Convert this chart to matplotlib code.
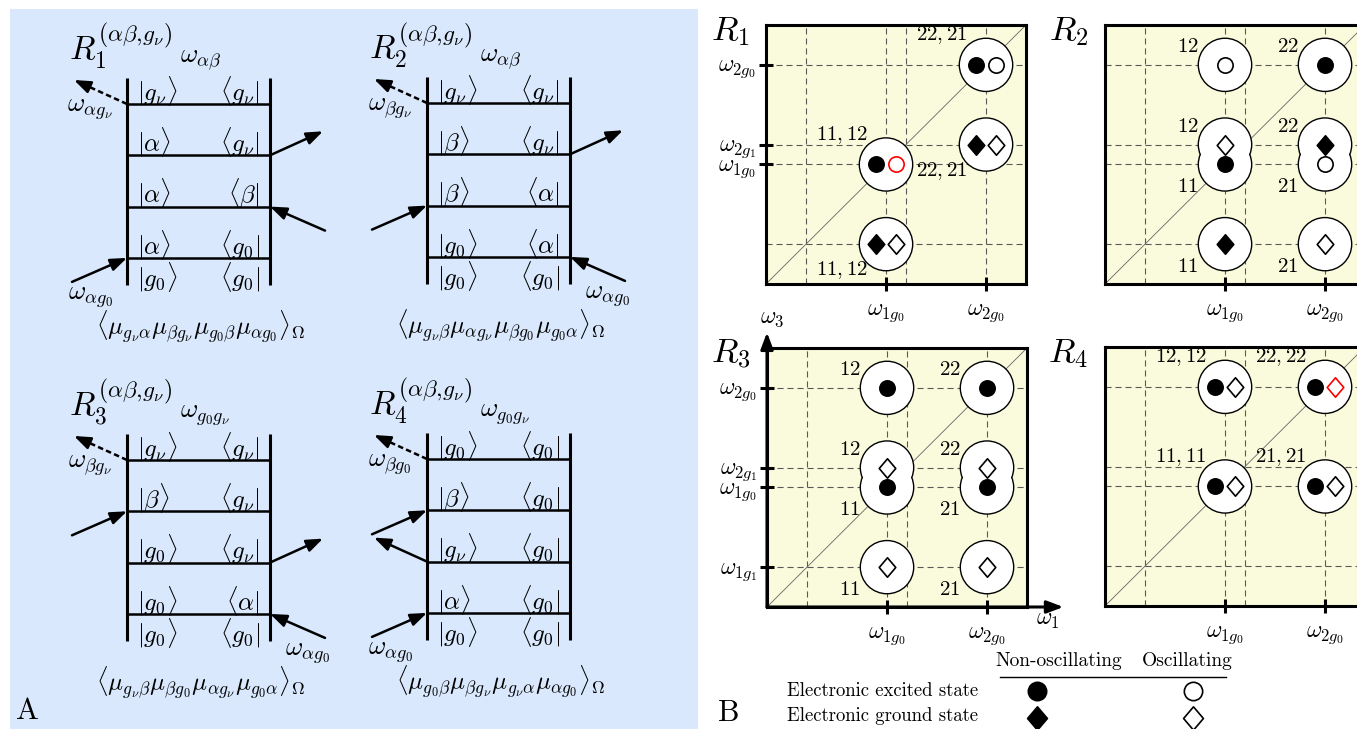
import matplotlib.pyplot as plt
from matplotlib.patches import Rectangle, Circle
from matplotlib.path import Path

plt.rcParams['mathtext.fontset'] = 'cm'
plt.rcParams['font.family'] = 'serif'
plt.rcParams['font.serif'] = ['cmr10']
plt.rcParams['axes.formatter.use_mathtext'] = True

# ---------------- panel A: double-sided Feynman diagrams ----------------
R1_kets = [r'g_\nu', r'\alpha', r'\alpha', r'\alpha', r'g_0']
R1_bras = [r'g_\nu', r'g_\nu', r'\beta', r'g_0', r'g_0']
R2_kets = [r'g_\nu', r'\beta', r'\beta', r'g_0', r'g_0']
R2_bras = [r'g_\nu', r'g_\nu', r'\alpha', r'\alpha', r'g_0']
R3_kets = [r'g_\nu', r'\beta', r'g_0', r'g_0', r'g_0']
R3_bras = [r'g_\nu', r'g_\nu', r'g_\nu', r'\alpha', r'g_0']
R4_kets = [r'g_0', r'\beta', r'g_\nu', r'\alpha', r'g_0']
R4_bras = [r'g_0', r'g_0', r'g_0', r'g_0', r'g_0']

# (side, interaction index, kind, label)
R1_arrows = [('L', 0, 'sig', r'\omega_{\alpha g_\nu}'), ('R', 1, 'out', ''),
             ('R', 2, 'in', ''), ('L', 3, 'in', r'\omega_{\alpha g_0}')]
R2_arrows = [('L', 0, 'sig', r'\omega_{\beta g_\nu}'), ('R', 1, 'out', ''),
             ('L', 2, 'in', ''), ('R', 3, 'in', r'\omega_{\alpha g_0}')]
R3_arrows = [('L', 0, 'sig', r'\omega_{\beta g_\nu}'), ('L', 1, 'in', ''),
             ('R', 2, 'out', ''), ('R', 3, 'in', r'\omega_{\alpha g_0}')]
R4_arrows = [('L', 0, 'sig', r'\omega_{\beta g_0}'), ('L', 1, 'in', ''),
             ('L', 2, 'out', ''), ('L', 3, 'in', r'\omega_{\alpha g_0}')]

coherences = [r'\omega_{\alpha\beta}', r'\omega_{\alpha\beta}',
              r'\omega_{g_0g_\nu}', r'\omega_{g_0g_\nu}']
orientations = [
    r'\langle\mu_{g_\nu\alpha}\mu_{\beta g_\nu}\mu_{g_0\beta}\mu_{\alpha g_0}\rangle_\Omega',
    r'\langle\mu_{g_\nu\beta}\mu_{\alpha g_\nu}\mu_{\beta g_0}\mu_{g_0\alpha}\rangle_\Omega',
    r'\langle\mu_{g_\nu\beta}\mu_{\beta g_0}\mu_{\alpha g_\nu}\mu_{g_0\alpha}\rangle_\Omega',
    r'\langle\mu_{g_0\beta}\mu_{\beta g_\nu}\mu_{g_\nu\alpha}\mu_{\alpha g_0}\rangle_\Omega',
]

# ---------------- panel B: 2D spectra peak maps ----------------
w1g1, w1g0, w2g1, w2g0 = 1.0, 3.0, 3.5, 5.5
wmax = 6.5

# marks: E/e = excited state (filled / oscillating), G/g = ground state; '!' = red
R1_x = [w1g0, w2g0, w2g0, w1g0]
R1_y = [w1g0, w2g0, w2g1, w1g1]
R1_marks = [('E', 'e!'), ('E', 'e'), ('G', 'g'), ('G', 'g')]
R1_labels = ['11,12', '22,21', '22,21', '11,12']
R1_sides = ['up', 'up', 'down', 'down']

R2_x = [w1g0, w2g0, w1g0, w1g0, w2g0, w2g0, w1g0, w2g0]
R2_y = [w2g0, w2g0, w2g1, w1g0, w2g1, w1g0, w1g1, w1g1]
R2_marks = [('e',), ('E',), ('g',), ('E',), ('G',), ('e',), ('G',), ('g',)]
R2_labels = ['12', '22', '12', '11', '22', '21', '11', '21']
R2_sides = ['up', 'up', 'up', 'down', 'up', 'down', 'down', 'down']

R3_x = [w1g0, w2g0, w1g0, w1g0, w2g0, w2g0, w1g0, w2g0]
R3_y = [w2g0, w2g0, w2g1, w1g0, w2g1, w1g0, w1g1, w1g1]
R3_marks = [('E',), ('E',), ('g',), ('E',), ('g',), ('E',), ('g',), ('g',)]
R3_labels = ['12', '22', '12', '11', '22', '21', '11', '21']
R3_sides = ['up', 'up', 'up', 'down', 'up', 'down', 'down', 'down']

R4_x = [w1g0, w2g0, w1g0, w2g0]
R4_y = [w2g0, w2g0, w1g0, w1g0]
R4_marks = [('E', 'g'), ('E', 'g!'), ('E', 'g'), ('E', 'g')]
R4_labels = ['12,12', '22,22', '11,11', '21,21']
R4_sides = ['up', 'up', 'up', 'up']

grid_w = [w1g1, w1g0, w2g1, w2g0]
tick_names = {w1g1: r'$\omega_{1g_1}$', w1g0: r'$\omega_{1g_0}$',
              w2g1: r'$\omega_{2g_1}$', w2g0: r'$\omega_{2g_0}$'}

W, H = 1357, 729
fig = plt.figure(figsize=(W / 100, H / 100), dpi=100)
ax = fig.add_axes([0, 0, 1, 1])
ax.set_xlim(0, W)
ax.set_ylim(H, 0)
ax.axis('off')

ax.add_patch(Rectangle((10, 9), 688, 720, facecolor='#d9e8fc', edgecolor='none', zorder=0))

LW = 1.8
SP = 51.3


def arrow(a, tail, head, dashed=False):
    if dashed:
        fx = head[0] + (tail[0] - head[0]) * 0.2
        fy = head[1] + (tail[1] - head[1]) * 0.2
        a.plot([tail[0], fx], [tail[1], fy], color='k', lw=LW, ls=(0, (2.2, 1.3)))
        tail = (fx, fy)
    a.annotate('', xy=head, xytext=tail,
               arrowprops=dict(arrowstyle='-|>,head_length=0.45,head_width=0.17',
                               color='k', lw=LW, shrinkA=0, shrinkB=0,
                               mutation_scale=22))


def diagram(a, x0, y0, idx, kets, bras, arrows):
    xr = x0 + 143
    lines = [y0 + k * SP for k in range(4)]
    for xv in (x0, xr):
        a.plot([xv, xv], [y0 - 26, lines[-1] + 27], color='k', lw=2.2, solid_capstyle='butt')
    for yl in lines:
        a.plot([x0, xr], [yl, yl], color='k', lw=LW, solid_capstyle='butt')
    rows = [yl - 13 for yl in lines] + [lines[-1] + 19]
    for yr, k, b in zip(rows, kets, bras):
        a.text(x0 + 10, yr, rf'$|{k}\rangle$', ha='left', va='center', fontsize=18)
        a.text(xr - 10, yr, rf'$\langle {b}|$', ha='right', va='center', fontsize=18)
    a.text(x0 - 58, y0 - 44, rf'$R_{idx + 1}^{{(\alpha\beta,\!g_\nu)}}$',
           ha='left', va='baseline', fontsize=24)
    a.text(x0 + 53, y0 - 44, rf'${coherences[idx]}$', ha='left', va='center', fontsize=19)
    for side, lev, kind, lab in arrows:
        s = -1 if side == 'L' else 1
        xa = x0 if side == 'L' else xr
        ya = lines[lev]
        if kind == 'in':
            arrow(a, (xa + s * 55, ya + 24), (xa, ya))
            ly = ya + 40
        else:
            arrow(a, (xa, ya), (xa + s * 53, ya - 24), dashed=(kind == 'sig'))
            ly = ya + 6
        if lab:
            a.text(xa + s * 37, ly, rf'${lab}$', ha='center', va='center', fontsize=19)
    a.text(x0 + 74, y0 + 223, rf'${orientations[idx]}$', ha='center', va='center', fontsize=18)


diagram(ax, 127, 104, 0, R1_kets, R1_bras, R1_arrows)
diagram(ax, 427, 103, 1, R2_kets, R2_bras, R2_arrows)
diagram(ax, 127, 460, 2, R3_kets, R3_bras, R3_arrows)
diagram(ax, 427, 459, 3, R4_kets, R4_bras, R4_arrows)
ax.text(27, 711, 'A', ha='center', va='center', fontsize=22)

# ---------------- panel B ----------------
diamond = Path([(0, 1), (0.85, 0), (0, -1), (-0.85, 0), (0, 1)],
               [Path.MOVETO, Path.LINETO, Path.LINETO, Path.LINETO, Path.CLOSEPOLY])


def mark(a, x, y, code, size=1.0):
    red = code.endswith('!')
    ec = 'red' if red else 'k'
    kind = code[0]
    if kind in 'Ee':
        a.plot(x, y, marker='o', ms=11 * size, mec=ec, mew=1.2,
               mfc='k' if kind == 'E' else 'white', zorder=6, clip_on=False)
    else:
        a.plot(x, y, marker=diamond, ms=14 * size, mec=ec, mew=1.2,
               mfc='k' if kind == 'G' else 'white', zorder=6, clip_on=False)


def peak_map(px, py, idx, xs, ys, marks, labels, sides, yticks):
    b = fig.add_axes([px / W, 1 - (py + 259) / H, 260 / W, 259 / H])
    b.set_facecolor('#fafadc')
    b.set_xlim(0, wmax)
    b.set_ylim(0, wmax)
    for v in grid_w:
        b.axvline(v, color='0.35', lw=0.8, ls=(0, (5.5, 3.5)), zorder=1)
        b.axhline(v, color='0.35', lw=0.8, ls=(0, (5.5, 3.5)), zorder=1)
    b.plot([0, wmax], [0, wmax], color='0.4', lw=0.6, zorder=1)
    for x, y in zip(xs, ys):
        b.add_patch(Circle((x, y), 0.65, facecolor='white', edgecolor='k', lw=2.0, zorder=3))
    for x, y in zip(xs, ys):
        b.add_patch(Circle((x, y), 0.65, facecolor='white', edgecolor='none', zorder=4))
    pair = len(marks[0]) == 2
    for x, y, m, lab, side in zip(xs, ys, marks, labels, sides):
        if len(m) == 2:
            mark(b, x - 0.24, y, m[0])
            mark(b, x + 0.24, y, m[1])
        else:
            mark(b, x, y, m[0])
        if pair:
            dx, dy = -0.46, (0.74 if side == 'up' else -0.66)
        else:
            dx, dy = -0.66, (0.45 if side == 'up' else -0.57)
        b.text(x + dx, y + dy, rf'${lab}$', ha='right', va='center', fontsize=15, zorder=7)
    for sp in b.spines.values():
        sp.set_linewidth(2.2)
    b.set_xticks([w1g0, w2g0])
    b.set_xticklabels([tick_names[w1g0], tick_names[w2g0]], fontsize=17)
    b.set_yticks(yticks)
    b.set_yticklabels([tick_names[v] for v in yticks], fontsize=17)
    b.tick_params(direction='inout', length=10, width=2.2, pad=2)
    b.tick_params(axis='x', pad=8)
    b.text(-0.065, 0.975, rf'$R_{idx + 1}$', transform=b.transAxes,
           ha='right', va='center', fontsize=25)
    return b


peak_map(766, 25, 0, R1_x, R1_y, R1_marks, R1_labels, R1_sides, [w1g0, w2g1, w2g0])
peak_map(1105, 25, 1, R2_x, R2_y, R2_marks, R2_labels, R2_sides, [])
b3 = peak_map(767, 348, 2, R3_x, R3_y, R3_marks, R3_labels, R3_sides, grid_w)
peak_map(1105, 347, 3, R4_x, R4_y, R4_marks, R4_labels, R4_sides, [])

# frequency axes arrows on the lower left map
b3.annotate('', xy=(0, 1.06), xytext=(0, 0), xycoords='axes fraction',
            arrowprops=dict(arrowstyle='-|>,head_length=0.45,head_width=0.17',
                            color='k', lw=2.2, shrinkA=0, shrinkB=0, mutation_scale=22))
b3.annotate('', xy=(1.14, 0), xytext=(0, 0), xycoords='axes fraction',
            arrowprops=dict(arrowstyle='-|>,head_length=0.45,head_width=0.17',
                            color='k', lw=2.2, shrinkA=0, shrinkB=0, mutation_scale=22))
b3.text(0.02, 1.115, r'$\omega_3$', transform=b3.transAxes, ha='center', va='center', fontsize=17)
b3.text(1.08, -0.05, r'$\omega_1$', transform=b3.transAxes, ha='center', va='center', fontsize=17)

# legend
ax.text(1059, 661, 'Non-oscillating', ha='center', va='center', fontsize=14)
ax.text(1187, 661, 'Oscillating', ha='center', va='center', fontsize=14)
ax.plot([1000, 1226], [677, 677], color='k', lw=1.0)
ax.text(787, 691, 'Electronic excited state', ha='left', va='center', fontsize=13.5)
ax.text(787, 716, 'Electronic ground state', ha='left', va='center', fontsize=13.5)
mark(ax, 1037, 691, 'E', 1.2)
mark(ax, 1193, 691, 'e', 1.2)
mark(ax, 1037, 718, 'G', 1.2)
mark(ax, 1193, 718, 'g', 1.2)
ax.text(729, 713, 'B', ha='center', va='center', fontsize=22)

fig.savefig('out.png', dpi=100)
